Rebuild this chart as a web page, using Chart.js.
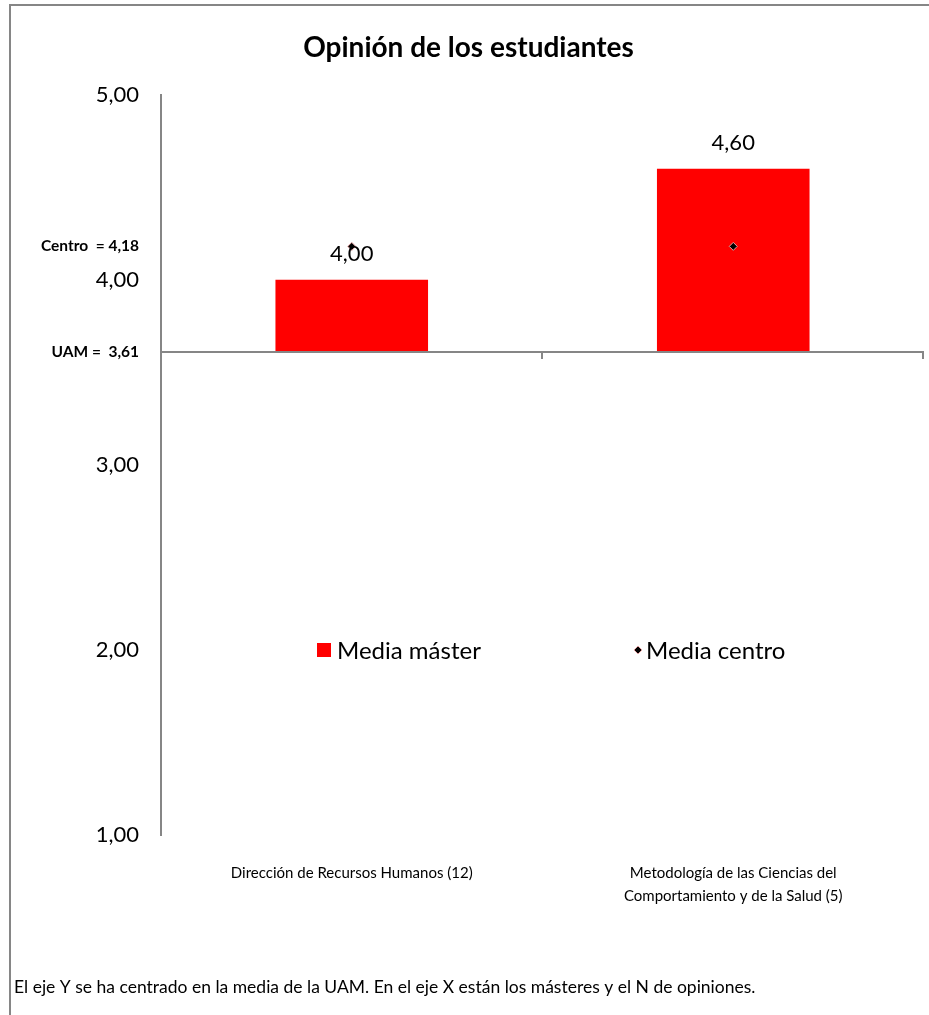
<!DOCTYPE html>
<html>
<head>
<meta charset="utf-8">
<script src="https://cdn.jsdelivr.net/npm/chart.js@4.4.0/dist/chart.umd.min.js"></script>
<style>
  html, body { margin: 0; padding: 0; background: #fff; }
  canvas { display: block; }
</style>
</head>
<body>
<canvas id="opinionChart" width="929" height="1015"></canvas>
<script>
// chart data
const categories = [
  ["Dirección de Recursos Humanos (12)"],
  ["Metodología de las Ciencias del", "Comportamiento y de la Salud (5)"],
];
const mediaMaster = [4.0, 4.6];
const mediaCentro = [4.18, 4.18];
const mediaUAM = 3.61;
const centroValue = 4.18;
const yTicks = [1, 2, 3, 4, 5];
const seriesNames = ["Media máster", "Media centro"];
const refLabels = { uam: "UAM =  3,61", centro: "Centro  = 4,18" };
const footNote =
  "El eje Y se ha centrado en la media de la UAM. En el eje X están los másteres y el N de opiniones.";

const FONT = "Lato, 'Liberation Sans', sans-serif";
const axisGrey = "#868686";

function fmt(v) {
  return v.toFixed(2).replace(".", ",");
}

// frame, uam line, value labels, legend, footnote
const extras = {
  id: "extras",
  beforeDraw(chart) {
    const ctx = chart.ctx;
    ctx.save();
    ctx.strokeStyle = axisGrey;
    ctx.lineWidth = 2;
    ctx.beginPath();
    ctx.moveTo(10, chart.height);
    ctx.lineTo(10, 5);
    ctx.lineTo(chart.width, 5);
    ctx.stroke();
    ctx.restore();
  },
  afterDatasetsDraw(chart) {
    const ctx = chart.ctx;
    const area = chart.chartArea;
    const y = chart.scales.y;
    const yU = Math.round(y.getPixelForValue(mediaUAM));

    ctx.save();
    // horizontal axis crossing at the UAM mean
    ctx.strokeStyle = axisGrey;
    ctx.lineWidth = 2;
    ctx.beginPath();
    ctx.moveTo(area.left, yU);
    ctx.lineTo(area.right, yU);
    const n = categories.length;
    for (let i = 1; i <= n; i++) {
      const bx = Math.round(area.left + (i * (area.right - area.left)) / n) - 1;
      ctx.moveTo(bx, yU);
      ctx.lineTo(bx, yU + 7);
    }
    ctx.stroke();

    // value labels above the bars
    ctx.fillStyle = "#000";
    ctx.font = "22px " + FONT;
    ctx.textAlign = "center";
    ctx.textBaseline = "middle";
    chart.getDatasetMeta(1).data.forEach((bar, i) => {
      ctx.fillText(fmt(mediaMaster[i]), bar.x, bar.y - 26);
    });

    // legend
    ctx.textAlign = "left";
    ctx.font = "24px " + FONT;
    const ly = 650;
    ctx.fillStyle = "#ff0000";
    ctx.fillRect(317, ly - 7, 14, 14);
    ctx.fillStyle = "#000";
    ctx.fillText(seriesNames[0], 337, ly + 1);
    ctx.fillStyle = "#000";
    ctx.strokeStyle = "#e3a3a3";
    ctx.lineWidth = 1;
    ctx.beginPath();
    ctx.moveTo(638, ly - 4);
    ctx.lineTo(642, ly);
    ctx.lineTo(638, ly + 4);
    ctx.lineTo(634, ly);
    ctx.closePath();
    ctx.fill();
    ctx.stroke();
    ctx.fillStyle = "#000";
    ctx.fillText(seriesNames[1], 646, ly + 1);

    // footnote
    ctx.font = "17.5px " + FONT;
    ctx.fillText(footNote, 14, 987);
    ctx.restore();
  },
};

const ctx = document.getElementById("opinionChart").getContext("2d");
const chart = new Chart(ctx, {
  data: {
    labels: categories,
    datasets: [
      {
        type: "line",
        label: seriesNames[1],
        data: mediaCentro,
        showLine: false,
        pointStyle: "rectRot",
        pointRadius: 4,
        pointHoverRadius: 4,
        pointBackgroundColor: "#000",
        pointBorderColor: "#e3a3a3",
        pointBorderWidth: 1,
        order: 1,
      },
      {
        type: "bar",
        label: seriesNames[0],
        data: mediaMaster,
        base: mediaUAM,
        backgroundColor: "#ff0000",
        borderWidth: 0,
        categoryPercentage: 1,
        barPercentage: 0.4,
        order: 2,
      },
    ],
  },
  options: {
    responsive: false,
    devicePixelRatio: 1,
    animation: false,
    layout: { padding: { left: 12, right: 4, top: 0, bottom: 0 } },
    plugins: {
      legend: { display: false },
      tooltip: { enabled: false },
      title: {
        display: true,
        text: "Opinión de los estudiantes",
        color: "#000",
        font: { family: FONT, size: 28, weight: "bold" },
        padding: { top: 31, bottom: 30 },
      },
    },
    scales: {
      x: {
        offset: true,
        grid: { display: false, drawTicks: false },
        border: { display: false },
        ticks: {
          color: "#000",
          font: { family: FONT, size: 15, lineHeight: 1.5 },
          padding: 27,
          maxRotation: 0,
          autoSkip: false,
        },
        afterFit(scale) {
          scale.height = 180;
        },
      },
      y: {
        min: 1,
        max: 5,
        grid: { display: false, drawTicks: false },
        border: { display: true, color: axisGrey, width: 2 },
        afterBuildTicks(scale) {
          scale.ticks = [...yTicks, mediaUAM, centroValue]
            .sort((a, b) => a - b)
            .map((v) => ({ value: v }));
        },
        ticks: {
          color: "#000",
          padding: 22,
          autoSkip: false,
          callback(v) {
            if (v === mediaUAM) return refLabels.uam;
            if (v === centroValue) return refLabels.centro;
            return fmt(v);
          },
          font(c) {
            const v = c.tick ? c.tick.value : null;
            if (v === mediaUAM || v === centroValue) {
              return { family: FONT, size: 15.5, weight: "bold" };
            }
            return { family: FONT, size: 22 };
          },
        },
        afterFit(scale) {
          scale.width = 149;
        },
      },
    },
  },
  plugins: [extras],
});
</script>
</body>
</html>
